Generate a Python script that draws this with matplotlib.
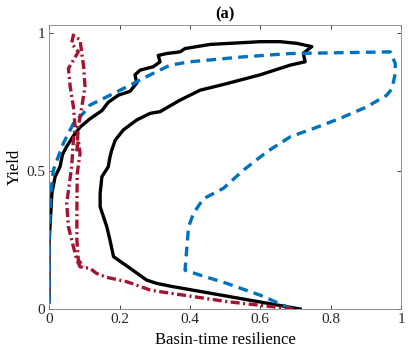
import numpy as np
from matplotlib import pyplot as plt
import matplotlib
matplotlib.rc('font', family='Liberation Serif', size=10)
matplotlib.rc('lines', scale_dashes=False)

# black solid curve (resilience, yield)
blk_x = [0.0, 0.0, 0.008, 0.017, 0.031, 0.038, 0.05, 0.069, 0.088, 0.116, 0.15, 0.168, 0.197,
         0.23, 0.249, 0.244, 0.259, 0.296, 0.315, 0.31, 0.334, 0.372, 0.386, 0.457, 0.6, 0.656,
         0.703, 0.746, 0.722, 0.727, 0.685, 0.6, 0.505, 0.429, 0.372, 0.315, 0.287, 0.249,
         0.211, 0.188, 0.178, 0.173, 0.168, 0.15, 0.145, 0.145, 0.164, 0.173, 0.183, 0.23,
         0.277, 0.306, 0.344, 0.713]
blk_y = [0.026, 0.24, 0.42, 0.48, 0.516, 0.56, 0.59, 0.628, 0.66, 0.69, 0.72, 0.75, 0.776,
         0.79, 0.82, 0.85, 0.867, 0.879, 0.897, 0.92, 0.927, 0.933, 0.945, 0.96, 0.97, 0.97,
         0.964, 0.952, 0.928, 0.897, 0.885, 0.85, 0.818, 0.794, 0.758, 0.716, 0.71, 0.686,
         0.65, 0.613, 0.577, 0.552, 0.516, 0.48, 0.42, 0.371, 0.298, 0.25, 0.19, 0.148,
         0.105, 0.093, 0.083, 0.0]

# blue dashed curve
blu_x = [0.0, 0.0, 0.005, 0.012, 0.04, 0.06, 0.069, 0.097, 0.116, 0.164, 0.23, 0.286, 0.344,
         0.4, 0.552, 0.685, 0.969, 0.983, 0.983, 0.974, 0.959, 0.903, 0.827, 0.751, 0.685,
         0.618, 0.552, 0.495, 0.438, 0.41, 0.396, 0.386, 0.429, 0.505, 0.6, 0.69]
blu_y = [0.02, 0.25, 0.42, 0.504, 0.6, 0.65, 0.673, 0.71, 0.74, 0.77, 0.812, 0.849, 0.885,
         0.897, 0.915, 0.927, 0.933, 0.891, 0.855, 0.80, 0.776, 0.734, 0.692, 0.655, 0.625,
         0.57, 0.504, 0.438, 0.40, 0.347, 0.298, 0.141, 0.123, 0.093, 0.05, 0.0]

# red dash-dot curve
red_x = [0.694, 0.505, 0.315, 0.287, 0.221, 0.164, 0.135, 0.116, 0.088, 0.079, 0.069, 0.055,
         0.05, 0.064, 0.069, 0.074, 0.069, 0.06, 0.055, 0.083, 0.064, 0.069, 0.088, 0.093,
         0.098, 0.102, 0.093, 0.083, 0.079, 0.083, 0.088, 0.08, 0.079, 0.079, 0.083, 0.098]
red_y = [0.0, 0.027, 0.063, 0.069, 0.099, 0.115, 0.129, 0.148, 0.153, 0.178, 0.226, 0.298,
         0.383, 0.516, 0.613, 0.661, 0.734, 0.806, 0.873, 0.933, 0.964, 0.994, 0.976, 0.927,
         0.879, 0.806, 0.734, 0.661, 0.577, 0.613, 0.565, 0.492, 0.371, 0.25, 0.178, 0.153]

xticks = [0, 0.2, 0.4, 0.6, 0.8, 1]
xtick_lbl = ['0', '0.2', '0.4', '0.6', '0.8', '1']
yticks = [0, 0.5, 1]
ytick_lbl = ['0', '0.5', '1']

fig = plt.figure(figsize=(4.09, 3.54), dpi=100)
ax = fig.add_axes([0.12, 0.127, 0.861, 0.802])

ax.plot(blk_x, blk_y, color='black', lw=2.4, solid_joinstyle='round')
ax.plot(blu_x, blu_y, color='#0072BD', lw=2.4, dashes=(7, 4.5))
ax.plot(red_x, red_y, color='#A2142F', lw=2.4, dashes=(6.5, 2.5, 1.5, 2.5))

ax.set_xlim(0, 1)
ax.set_ylim(0, 1.03)
ax.set_xticks(xticks)
ax.set_xticklabels(xtick_lbl)
ax.set_yticks(yticks)
ax.set_yticklabels(ytick_lbl)
ax.tick_params(direction='in', top=True, right=True, length=3, width=0.6,
               colors='#262626', labelsize=11, pad=3)
for s in ax.spines.values():
  s.set_color('#808080')
  s.set_linewidth(0.6)
ax.set_xlabel('Basin-time resilience', fontsize=12, labelpad=4)
ax.set_ylabel('Yield', fontsize=12, labelpad=2)
ax.set_title('(a)', fontsize=12, fontweight='bold', pad=5)
plt.savefig('out.png', dpi=100)
